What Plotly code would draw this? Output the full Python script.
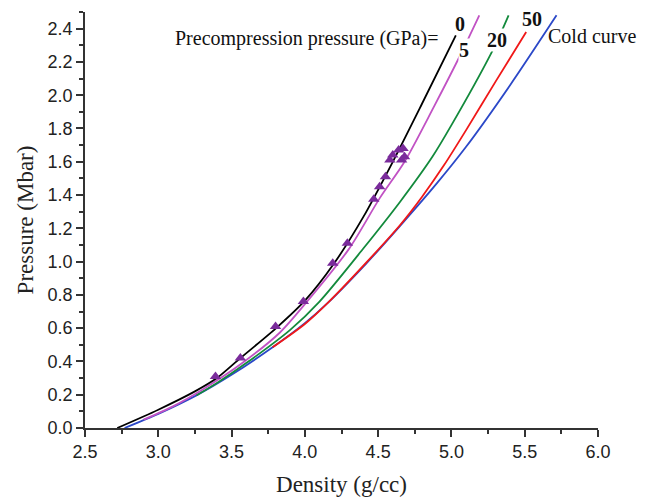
import plotly.graph_objects as go

# ---- data ----
d_p0 = [2.72, 3.0, 3.25, 3.4, 3.56, 3.81, 4.0, 4.2, 4.4, 4.6, 4.8, 5.03]
p_p0 = [0.0, 0.11, 0.22, 0.30, 0.42, 0.605, 0.765, 0.99, 1.27, 1.60, 1.95, 2.36]

d_p5 = [2.90, 3.1, 3.3, 3.58, 3.83, 4.02, 4.3, 4.51, 4.68, 4.88, 5.06, 5.19]
p_p5 = [0.05, 0.13, 0.23, 0.395, 0.574, 0.765, 1.075, 1.38, 1.60, 1.93, 2.24, 2.48]

d_p20 = [3.26, 3.4, 3.6, 3.9, 4.1, 4.4, 4.65, 4.87, 5.0, 5.27, 5.34, 5.39]
p_p20 = [0.196, 0.27, 0.39, 0.59, 0.76, 1.08, 1.36, 1.63, 1.82, 2.25, 2.38, 2.48]

d_p50 = [3.78, 4.0, 4.16, 4.42, 4.65, 4.8, 4.95, 5.1, 5.3, 5.51]
p_p50 = [0.485, 0.625, 0.755, 0.995, 1.22, 1.39, 1.58, 1.79, 2.08, 2.38]

d_cold = [2.77, 3.0, 3.26, 3.5, 3.78, 4.0, 4.16, 4.42, 4.65, 4.9, 5.1, 5.4, 5.717]
p_cold = [0.0, 0.085, 0.196, 0.32, 0.485, 0.63, 0.755, 0.99, 1.215, 1.47, 1.69, 2.06, 2.48]

d_exp = [3.39, 3.56, 3.80, 3.99, 4.19, 4.29, 4.47, 4.51, 4.55, 4.58, 4.60, 4.64, 4.66, 4.67, 4.68]
p_exp = [0.31, 0.42, 0.61, 0.76, 0.99, 1.11, 1.375, 1.45, 1.51, 1.61, 1.64, 1.67, 1.61, 1.68, 1.63]

x_ticks = [2.5, 3.0, 3.5, 4.0, 4.5, 5.0, 5.5, 6.0]
y_ticks = [0.0, 0.2, 0.4, 0.6, 0.8, 1.0, 1.2, 1.4, 1.6, 1.8, 2.0, 2.2, 2.4]

curves = [
    (d_cold, p_cold, "#2b48c8", "Cold curve"),
    (d_p50, p_p50, "#f01818", "50"),
    (d_p20, p_p20, "#138a3c", "20"),
    (d_p5, p_p5, "#c152c4", "5"),
    (d_p0, p_p0, "#000000", "0"),
]

fig = go.Figure()
for xs, ys, col, name in curves:
    fig.add_trace(go.Scatter(x=xs, y=ys, mode="lines", name=name,
                             line=dict(color=col, width=1.8, shape="spline", smoothing=0.8),
                             showlegend=False))

fig.add_trace(go.Scatter(x=d_exp, y=p_exp, mode="markers", name="exp",
                         marker=dict(symbol="triangle-up", size=10, color="#7a2b9b"),
                         showlegend=False))

serif = "Liberation Serif, Times New Roman, serif"
sans = "Liberation Sans, Arial, sans-serif"

annots = [
    dict(x=4.92, y=2.343, text="Precompression pressure (GPa)=", xanchor="right",
         font=dict(family=serif, size=20, color="#111")),
    dict(x=5.061, y=2.427, text="<b>0</b>", font=dict(family=serif, size=20, color="#111")),
    dict(x=5.085, y=2.272, text="<b>5</b>", font=dict(family=serif, size=20, color="#111"),
         bgcolor="white", borderpad=0),
    dict(x=5.31, y=2.331, text="<b>20</b>", font=dict(family=serif, size=20, color="#111"),
         bgcolor="white", borderpad=0),
    dict(x=5.549, y=2.455, text="<b>50</b>", font=dict(family=serif, size=20, color="#111")),
    dict(x=5.645, y=2.355, text="Cold curve", xanchor="left",
         font=dict(family=serif, size=20, color="#111")),
]
for a in annots:
    a.update(xref="x", yref="y", showarrow=False)
    fig.add_annotation(**a)

# page body has an 8px margin, so the figure is 8px smaller and margins shifted
fig.update_layout(
    width=643, height=491,
    margin=dict(l=77, r=53, t=4, b=71),
    paper_bgcolor="white", plot_bgcolor="white",
)
fig.update_xaxes(
    range=[2.5, 6.0], tickvals=x_ticks, ticktext=[f"{v:.1f}" for v in x_ticks],
    automargin=False,
    showgrid=False, zeroline=False, showline=True, linecolor="#333", linewidth=1.5,
    ticks="outside", ticklen=7, tickwidth=1.5, tickcolor="#333",
    minor=dict(dtick=0.25, ticks="outside", ticklen=4, tickwidth=1.5, tickcolor="#333"),
    tickfont=dict(family=sans, size=18, color="#222"),
    title=dict(text="Density (g/cc)", font=dict(family=serif, size=23, color="#222"), standoff=15),
)
fig.update_yaxes(
    range=[0, 2.5], tickvals=y_ticks, ticktext=[f"{v:.1f}" for v in y_ticks],
    automargin=False,
    showgrid=False, zeroline=False, showline=True, linecolor="#333", linewidth=1.5,
    ticks="outside", ticklen=7, tickwidth=1.5, tickcolor="#333",
    minor=dict(dtick=0.1, ticks="outside", ticklen=4, tickwidth=1.5, tickcolor="#333"),
    tickfont=dict(family=sans, size=18, color="#222"),
    title=dict(text="Pressure (Mbar)", font=dict(family=serif, size=23, color="#222"), standoff=8),
)

fig.write_html("out.html")
